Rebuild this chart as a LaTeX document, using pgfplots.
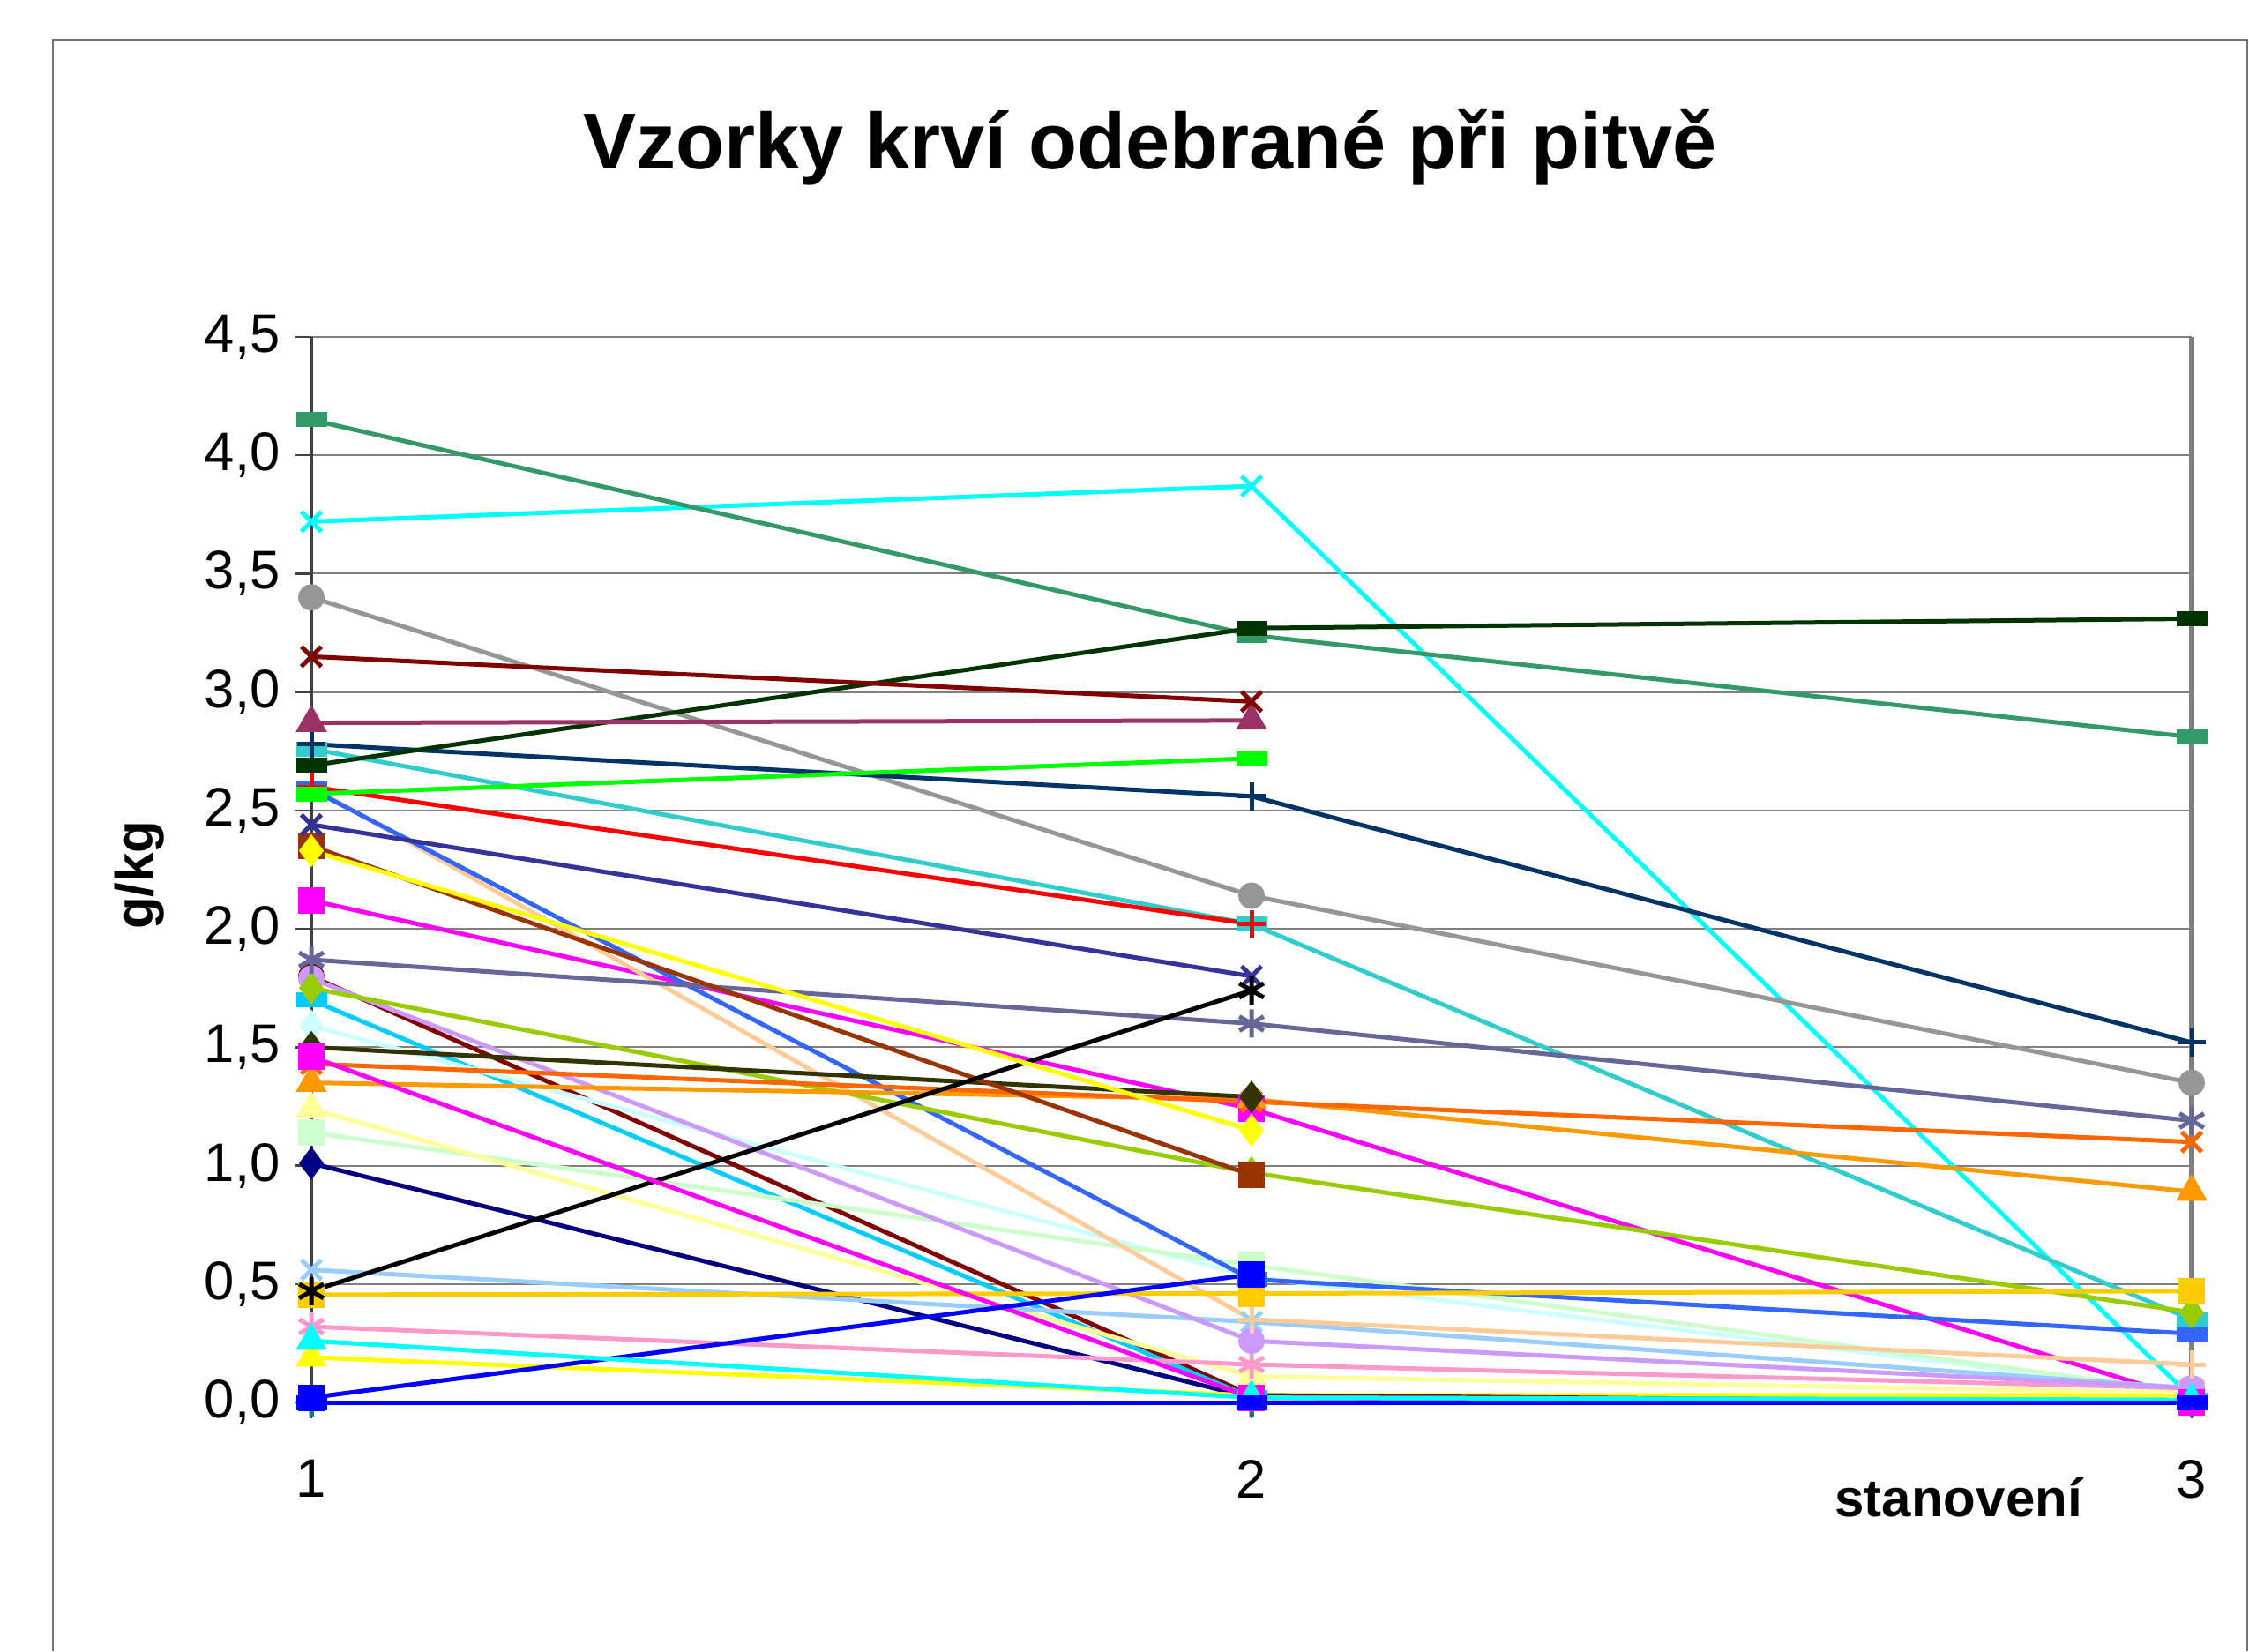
\documentclass[border=0pt]{standalone}
\usepackage{fontspec}
\setmainfont{Liberation Sans}
\usepackage{pgfplots}
\pgfplotsset{compat=1.18}
\definecolor{cNavy}{HTML}{000080}
\definecolor{cMag}{HTML}{FF00FF}
\definecolor{cYel}{HTML}{FFFF00}
\definecolor{cCyan}{HTML}{00FFFF}
\definecolor{cPurp}{HTML}{800080}
\definecolor{cDRed}{HTML}{800000}
\definecolor{cTeal}{HTML}{008080}
\definecolor{cBlue}{HTML}{0000FF}
\definecolor{cSky}{HTML}{00CCFF}
\definecolor{cLCyan}{HTML}{CCFFFF}
\definecolor{cLGreen}{HTML}{CCFFCC}
\definecolor{cLYel}{HTML}{FFFF99}
\definecolor{cLBlue}{HTML}{99CCFF}
\definecolor{cPink}{HTML}{FF99CC}
\definecolor{cLav}{HTML}{CC99FF}
\definecolor{cPeach}{HTML}{FFCC99}
\definecolor{cRBlue}{HTML}{3366FF}
\definecolor{cAqua}{HTML}{33CCCC}
\definecolor{cLime}{HTML}{99CC00}
\definecolor{cGold}{HTML}{FFCC00}
\definecolor{cLOr}{HTML}{FF9900}
\definecolor{cOr}{HTML}{FF6600}
\definecolor{cBGray}{HTML}{666699}
\definecolor{cGray}{HTML}{969696}
\definecolor{cDTeal}{HTML}{003366}
\definecolor{cSea}{HTML}{339966}
\definecolor{cDGreen}{HTML}{003300}
\definecolor{cOlive}{HTML}{333300}
\definecolor{cBrown}{HTML}{993300}
\definecolor{cPlum}{HTML}{993366}
\definecolor{cIndigo}{HTML}{333399}
\definecolor{cRed}{HTML}{FF0000}
\definecolor{cGreen}{HTML}{00FF00}
\begin{document}
\begin{tikzpicture}
\useasboundingbox (0,0) rectangle (510pt,374.4pt);
\draw[color=black!55, line width=0.5pt] (12pt,0) -- (12pt,365.4pt) -- (509.6pt,365.4pt) -- (509.6pt,0);
\node[anchor=base, font=\bfseries\fontsize{18}{21}\selectfont] at (260.8pt,336pt) {Vzorky krví odebrané při pitvě};
\begin{axis}[
  at={(70.6pt,56.4pt)}, anchor=south west,
  scale only axis, width=426.4pt, height=241.6pt,
  xmin=1, xmax=3, ymin=0, ymax=4.5,
  clip=false,
  axis lines=left,
  axis line style={-, color=black!75, line width=0.6pt},
  xtick={1,2,3}, xticklabels={1,2,3},
  ytick={0,0.5,1,1.5,2,2.5,3,3.5,4,4.5},
  ymajorgrids, major grid style={color=black!50, line width=0.4pt},
  tick align=outside, major tick length=3.6pt,
  tick style={color=black!75, line width=0.5pt},
  tick label style={font=\fontsize{12.3}{14}\selectfont},
  yticklabel style={/pgf/number format/.cd, fixed, fixed zerofill, precision=1, use comma, assume math mode=true},
  xticklabel style={yshift=-6pt},
  xlabel={stanovení},
  xlabel style={at={(axis description cs:0.876,-0.1076)}, anchor=base, font=\bfseries\fontsize{12}{14}\selectfont},
  ylabel={g/kg},
  ylabel style={at={(axis description cs:-0.0915,0.495)}, anchor=center, font=\bfseries\fontsize{12}{14}\selectfont},
  every axis plot/.append style={line width=1pt, mark size=2.4pt, mark options={solid}},
  dashm/.style={mark=square*, mark size=1.2pt, mark options={xscale=2.5}},
  sqm/.style={mark=square*, mark size=2.5pt},
  dim/.style={mark=diamond*, mark size=2.9pt},
  trm/.style={mark=triangle*, mark size=3.1pt},
  cim/.style={mark=*, mark size=2.5pt},
  xm/.style={mark=x, mark size=3.2pt},
  asm/.style={mark=asterisk, mark size=3.2pt},
  plm/.style={mark=+, mark size=3.2pt},
]
\addplot[color=cNavy, dim] coordinates {(1,1.01) (2,0.02)};
\addplot[color=cMag, sqm] coordinates {(1,2.12) (2,1.24) (3,0.01)};
\addplot[color=cYel, trm] coordinates {(1,0.19) (2,0.03) (3,0.03)};
\addplot[color=cCyan, xm] coordinates {(1,3.72) (2,3.87) (3,0.02)};
\addplot[color=cPurp, asm] coordinates {(1,0.0) (2,0.0) (3,0.0)};
\addplot[color=cDRed, cim] coordinates {(1,1.80) (2,0.03) (3,0.0)};
\addplot[color=cTeal, plm] coordinates {(1,0.0) (2,0.0) (3,0.0)};
\addplot[color=cSky, dashm] coordinates {(1,1.70) (2,0.02) (3,0.01)};
\addplot[color=cLCyan, dim] coordinates {(1,1.59) (2,0.53) (3,0.04)};
\addplot[color=cLGreen, sqm] coordinates {(1,1.14) (2,0.58) (3,0.04)};
\addplot[color=cLYel, trm] coordinates {(1,1.24) (2,0.11) (3,0.04)};
\addplot[color=cLBlue, xm] coordinates {(1,0.56) (2,0.34) (3,0.06)};
\addplot[color=cPink, asm] coordinates {(1,0.32) (2,0.16) (3,0.06)};
\addplot[color=cLav, cim] coordinates {(1,1.79) (2,0.26) (3,0.06)};
\addplot[color=cPeach, plm] coordinates {(1,2.60) (2,0.35) (3,0.16)};
\addplot[color=cRBlue, dashm] coordinates {(1,2.59) (2,0.52) (3,0.29)};
\addplot[color=cAqua, dashm] coordinates {(1,2.76) (2,2.02) (3,0.35)};
\addplot[color=cLime, dim] coordinates {(1,1.75) (2,0.97) (3,0.38)};
\addplot[color=cGold, sqm] coordinates {(1,0.455) (2,0.46) (3,0.47)};
\addplot[color=cLOr, trm] coordinates {(1,1.35) (2,1.28) (3,0.89)};
\addplot[color=cOr, xm] coordinates {(1,1.43) (2,1.27) (3,1.10)};
\addplot[color=cBGray, asm] coordinates {(1,1.87) (2,1.60) (3,1.19)};
\addplot[color=cGray, cim] coordinates {(1,3.40) (2,2.14) (3,1.35)};
\addplot[color=cDTeal, plm] coordinates {(1,2.78) (2,2.56) (3,1.52)};
\addplot[color=cSea, dashm] coordinates {(1,4.15) (2,3.24) (3,2.81)};
\addplot[color=cDGreen, dashm] coordinates {(1,2.69) (2,3.27) (3,3.31)};
\addplot[color=cOlive, dim] coordinates {(1,1.50) (2,1.29)};
\addplot[color=cBrown, sqm] coordinates {(1,2.35) (2,0.96)};
\addplot[color=cPlum, trm] coordinates {(1,2.87) (2,2.88)};
\addplot[color=cIndigo, xm] coordinates {(1,2.44) (2,1.80)};
\addplot[color=black, asm] coordinates {(1,0.47) (2,1.74)};
\addplot[color=cDRed, xm] coordinates {(1,3.15) (2,2.96)};
\addplot[color=cRed, plm] coordinates {(1,2.60) (2,2.02)};
\addplot[color=cGreen, dashm] coordinates {(1,2.57) (2,2.72)};
\addplot[color=cYel, dim] coordinates {(1,2.33) (2,1.15)};
\addplot[color=cMag, sqm] coordinates {(1,1.46) (2,0.02) (3,0.0)};
\addplot[color=cBlue, sqm] coordinates {(1,0.02) (2,0.54)};
\addplot[color=cCyan, trm] coordinates {(1,0.26) (2,0.02) (3,0.01)};
\addplot[color=cBlue, dashm] coordinates {(1,0.0) (2,0.0) (3,0.0)};
\draw[color=black!50, line width=1.2pt] (rel axis cs:1,0) -- (rel axis cs:1,1);
\end{axis}
\end{tikzpicture}
\end{document}
